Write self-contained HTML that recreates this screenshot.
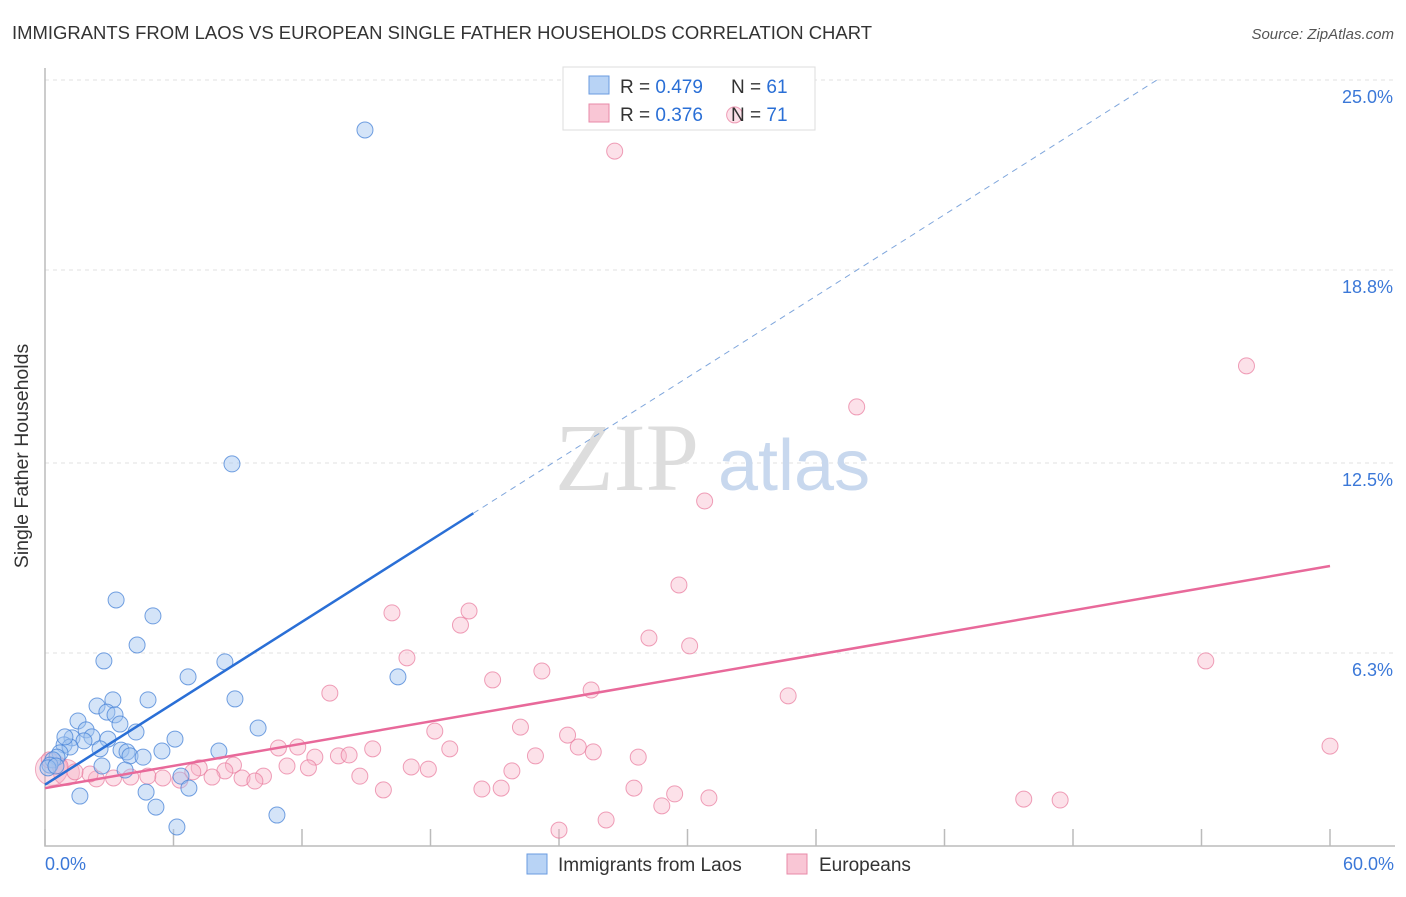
<!DOCTYPE html>
<html><head><meta charset="utf-8"><style>
body{margin:0;background:#fff;font-family:"Liberation Sans",sans-serif}
</style></head><body>
<svg width="1406" height="892" xmlns="http://www.w3.org/2000/svg" font-family="Liberation Sans, sans-serif">
<text x="12" y="39" font-size="18" fill="#333" textLength="860" lengthAdjust="spacingAndGlyphs">IMMIGRANTS FROM LAOS VS EUROPEAN SINGLE FATHER HOUSEHOLDS CORRELATION CHART</text>
<text x="1394" y="39" font-size="15" fill="#555" text-anchor="end" font-style="italic">Source: ZipAtlas.com</text>
<g id="grid"></g>
<text x="555" y="490" font-size="96" fill="#ddd" font-family="Liberation Serif, serif">ZIP</text>
<text x="718" y="490" font-size="72" fill="#c8d8ee">atlas</text>
<rect x="563" y="67" width="252" height="63" fill="#fff" stroke="#ddd"/>
<g id="pts"></g>
<g id="lines"></g>
<text x="28" y="456" font-size="19.5" fill="#333" transform="rotate(-90 28 456)" text-anchor="middle">Single Father Households</text>
<rect x="589" y="76" width="20" height="18" fill="#b8d3f5" stroke="#6a9be0"/>
<rect x="589" y="104" width="20" height="18" fill="#f9c6d5" stroke="#e88aa8"/>
<text x="620" y="93" font-size="19" fill="#333">R = <tspan fill="#2a6fd6">0.479</tspan></text>
<text x="731" y="93" font-size="19" fill="#333">N = <tspan fill="#2a6fd6">61</tspan></text>
<text x="620" y="121" font-size="19" fill="#333">R = <tspan fill="#2a6fd6">0.376</tspan></text>
<text x="731" y="121" font-size="19" fill="#333">N = <tspan fill="#2a6fd6">71</tspan></text>
<rect x="527" y="854" width="20" height="20" fill="#b8d3f5" stroke="#6a9be0"/>
<text x="558" y="871" font-size="19" fill="#333">Immigrants from Laos</text>
<rect x="787" y="854" width="20" height="20" fill="#f9c6d5" stroke="#e88aa8"/>
<text x="819" y="871" font-size="19" fill="#333">Europeans</text>
</svg>
<script>
const yTicks=[25,18.8,12.5,6.3];
const yTickLabels=["25.0%","18.8%","12.5%","6.3%"];
const xTicks=[0,6,12,18,24,30,36,42,48,54,60];
const blueX=[14.94,8.73,3.32,5.04,4.30,2.75,8.40,6.68,16.48,4.81,8.87,3.17,2.43,2.89,3.27,1.54,3.50,9.95,1.92,4.25,6.07,1.26,2.19,2.94,1.82,0.89,1.17,2.57,3.55,3.83,3.97,4.58,5.46,8.12,0.70,0.56,0.37,0.23,0.14,0.51,2.66,3.74,6.35,1.63,4.72,6.72,5.18,6.16,10.83,0.93];
const blueY=[23.37,12.47,8.03,7.51,6.56,6.04,6.01,5.52,5.52,4.77,4.80,4.77,4.57,4.37,4.28,4.08,3.98,3.85,3.79,3.72,3.49,3.53,3.56,3.49,3.43,3.30,3.23,3.17,3.13,3.07,2.94,2.90,3.10,3.10,3.04,2.90,2.81,2.64,2.55,2.61,2.61,2.48,2.28,1.63,1.76,1.89,1.27,0.62,1.01,3.56];
const pinkX=[32.2,26.6,56.1,37.9,30.8,29.6,19.8,16.2,19.4,28.2,30.1,16.9,54.2,23.2,20.9,25.5,13.3,34.7,22.2,18.2,24.4,24.9,60.0,18.9,11.8,10.9,15.3,25.6,27.7,12.6,13.7,14.2,22.9,17.1,17.9,21.8,11.3,12.3,14.7,8.8,8.4,7.2,6.9,10.2,9.2,9.8,7.8,5.5,4.8,4.0,3.2,2.4,2.1,1.4,0.7,0.2,15.8,20.4,21.3,27.5,29.4,28.8,31.0,45.7,47.4,26.2,24.0,6.3];
const pinkY=[23.86,22.68,15.67,14.33,11.26,8.52,7.67,7.61,7.21,6.79,6.53,6.14,6.04,5.71,5.42,5.09,4.99,4.90,3.88,3.75,3.62,3.23,3.26,3.17,3.23,3.20,3.17,3.07,2.90,2.90,2.94,2.97,2.94,2.58,2.51,2.45,2.61,2.55,2.28,2.64,2.45,2.55,2.42,2.28,2.22,2.12,2.25,2.22,2.28,2.25,2.22,2.19,2.35,2.42,2.61,2.81,1.83,1.86,1.89,1.89,1.70,1.31,1.57,1.53,1.50,0.85,0.52,2.15];
const blueTrend=[2.0,0.443];
const pinkTrend=[1.89,0.1208];
const NS="http://www.w3.org/2000/svg";
const X=v=>45+v/60*1285, Y=v=>846-v/25*766;
function mk(p,t,a){const e=document.createElementNS(NS,t);for(const k in a)e.setAttribute(k,a[k]);p.appendChild(e);return e;}
const g=document.getElementById('grid');
yTicks.forEach((t,i)=>{
 const l=mk(g,'line',{x1:45,x2:1395,y1:Y(t),y2:Y(t),stroke:'#e2e2e2','stroke-dasharray':'4,4'});
 
 
 const tx=mk(g,'text',{x:1393,y:Y(t)+23,'font-size':18,fill:'#3b78d8','text-anchor':'end'});
 tx.textContent=yTickLabels[i];
 
 
});
const ax=mk(g,'path',{d:'M45,68V846H1395',fill:'none',stroke:'#bbb','stroke-width':1.5});


xTicks.forEach(t=>{const l=mk(g,'line',{x1:X(t),x2:X(t),y1:829,y2:846,stroke:'#bbb','stroke-width':1.5});
 
 });
const xl=mk(g,'text',{x:45,y:870,'font-size':18,fill:'#3b78d8'});xl.textContent='0.0%';


const xr=mk(g,'text',{x:1394,y:870,'font-size':18,fill:'#3b78d8','text-anchor':'end'});xr.textContent='60.0%';


const P=document.getElementById('pts');
[[0.3,2.5,16],[1.0,2.4,13]].forEach(d=>{const c=mk(P,'circle',{cx:X(d[0]),cy:Y(d[1]),r:d[2],fill:'rgba(244,160,185,0.35)',stroke:'rgba(232,120,155,0.6)'});
 
 });
pinkX.forEach((v,i)=>{const c=mk(P,'circle',{cx:X(v),cy:Y(pinkY[i]),r:8,fill:'rgba(248,180,200,0.4)',stroke:'rgba(232,120,155,0.7)'});
 
 });
blueX.forEach((v,i)=>{const c=mk(P,'circle',{cx:X(v),cy:Y(blueY[i]),r:8,fill:'rgba(160,195,240,0.45)',stroke:'rgba(70,130,215,0.75)'});
 
 });
const L=document.getElementById('lines');
const bs=mk(L,'line',{x1:X(0),y1:Y(blueTrend[0]),x2:X(20),y2:Y(blueTrend[0]+20*blueTrend[1]),stroke:'#2a6fd6','stroke-width':2.5});


const xe=(25.07-blueTrend[0])/blueTrend[1];
const bd=mk(L,'line',{x1:X(20),y1:Y(blueTrend[0]+20*blueTrend[1]),x2:X(xe),y2:Y(25.07),stroke:'#7fa6dc','stroke-width':1,'stroke-dasharray':'6,5'});


const pl=mk(L,'line',{x1:X(0),y1:Y(pinkTrend[0]),x2:X(60),y2:Y(pinkTrend[0]+60*pinkTrend[1]),stroke:'#e8699a','stroke-width':2.5});


</script>
</body></html>
